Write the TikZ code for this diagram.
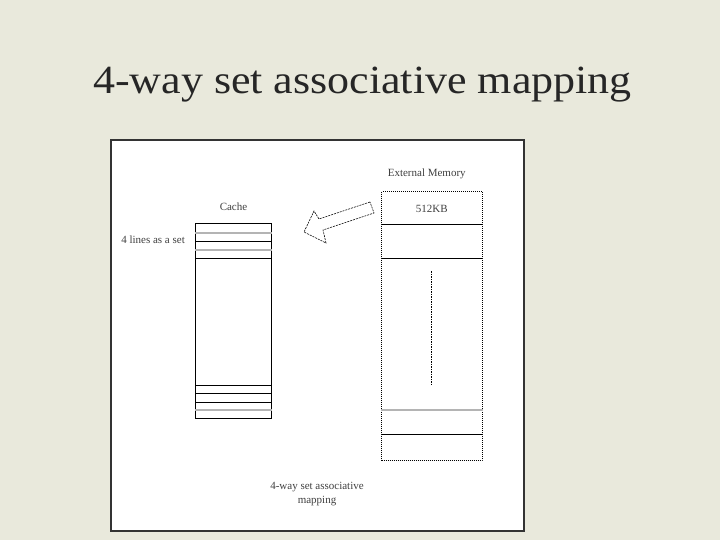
\documentclass[tikz,border=0pt]{standalone}
\usepackage{fontspec}
\setmainfont{Liberation Serif}
\usetikzlibrary{positioning}
\definecolor{slidebg}{HTML}{E9E9DC}
\definecolor{frameline}{HTML}{333333}
\definecolor{linegray}{HTML}{B4B4B4}

\begin{document}
\begin{tikzpicture}[x=1pt,y=-1pt,
    lbl/.style={font=\fontsize{11}{14}\selectfont, text=black!75, inner sep=0pt},
    cachebox/.style={draw, line width=1pt, minimum width=76pt, minimum height=194pt, inner sep=0pt},
    membox/.style={draw, densely dotted, line width=1pt, minimum width=100.5pt, minimum height=269pt, inner sep=0pt},
    darkline/.style={line width=1pt},
    lightline/.style={draw=linegray, line width=1.3pt}]
    % slide background and white panel
    \fill[slidebg] (0,0) rectangle (720,540);
    \node (title) [font=\fontsize{40}{48}\selectfont, text=black!85, xscale=1.1, anchor=base, inner sep=0pt] at (362.5,93.5) {4-way set associative mapping};
    \node (panel) [draw=frameline, fill=white, line width=1.5pt, minimum width=413pt, minimum height=391pt, inner sep=0pt] at (317.5,335.5) {};

    % cache
    \node (cache) [cachebox] at (233.5,321) {};
    \node (cachelbl) [lbl, above=13pt of cache] {Cache};
    \node (setlbl) [lbl, anchor=east] at ([xshift=-10pt]cache.west |- 0,240) {4 lines as a set};
    \foreach \y in {241,258,385,393,402}
        \draw[darkline] (cache.west |- 0,\y) -- (cache.east |- 0,\y);
    \foreach \y in {233,250,410}
        \draw[lightline] (cache.west |- 0,\y) -- (cache.east |- 0,\y);

    % external memory
    \node (mem) [membox] at (431.75,326) {};
    \node (memlbl) [lbl, above=12pt of mem, xshift=-5pt] {External Memory};
    \node (size) [lbl, below=14pt of mem.north] {512KB};
    \foreach \y in {225,258,434}
        \draw[darkline] (mem.west |- 0,\y) -- (mem.east |- 0,\y);
    \draw[lightline] (mem.west |- 0,410) -- (mem.east |- 0,410);
    \draw[line width=1.2pt, dash pattern=on 1.5pt off 1pt] (431.5,271) -- (431.5,385);

    % hollow arrow
    \draw[line width=0.6pt, dash pattern=on 2pt off 1pt]
        (370,202) -- (319,219) -- (314,211) -- (304,232) -- (326,243) -- (323,230) -- (374,213) -- cycle;

    \node (caption) [lbl, align=center] at (317,494) {4-way set associative\\mapping};
\end{tikzpicture}
\end{document}
